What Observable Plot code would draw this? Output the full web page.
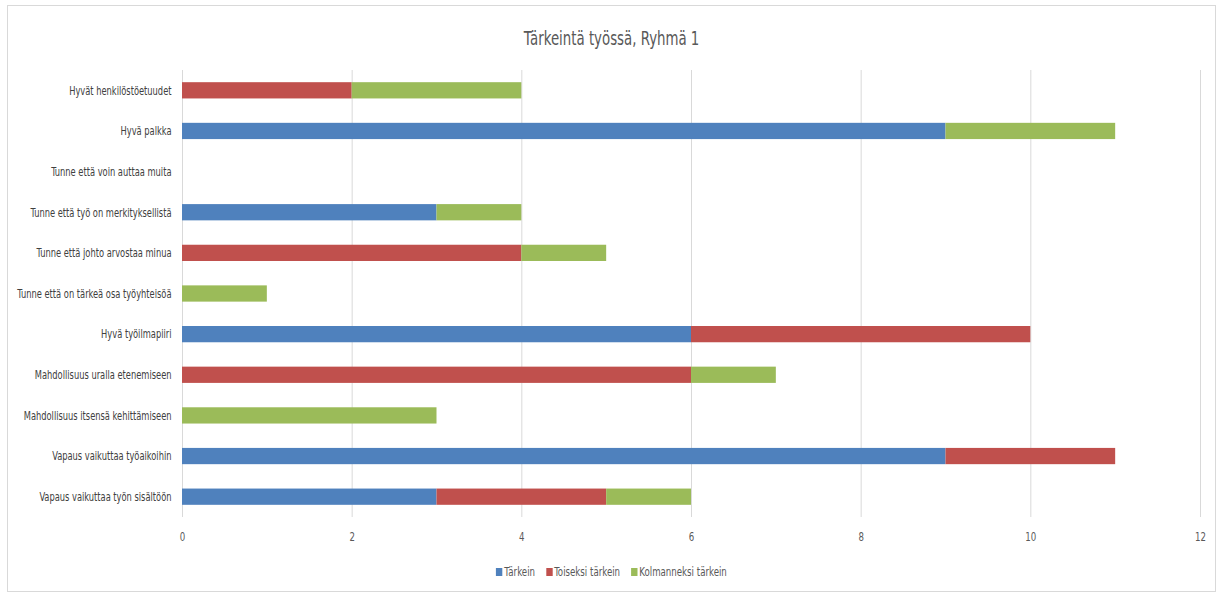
<!DOCTYPE html>
<html>
<head>
<meta charset="utf-8">
<script src="https://cdn.jsdelivr.net/npm/d3@7"></script>
<script src="https://cdn.jsdelivr.net/npm/@observablehq/plot@0.6"></script>
<style>
  body { margin: 0; background: #fff; font-family: "DejaVu Sans Condensed", "DejaVu Sans", sans-serif; }
  #wrap { position: absolute; left: 7px; top: 5px; width: 1207px; height: 585px; border: 1px solid #d9d9d9; }
  #title { position: absolute; left: 0; top: 21px; width: 100%; text-align: center; font-size: 19px; color: #595959; transform: scaleX(0.78); transform-origin: 50% 50%; }
  #chart { position: absolute; left: 0; top: 50px; }
  #legend { position: absolute; left: 0; top: 559px; width: 100%; text-align: center; font-size: 12px; color: #595959; transform: scaleX(0.8); transform-origin: 50% 50%; }
  #legend span.item { margin: 0 7px; }
  #legend span.sw { display: inline-block; width: 8px; height: 8px; margin-right: 2px; vertical-align: 0px; }
</style>
</head>
<body>
<div id="wrap">
  <div id="title">Tärkeintä työssä, Ryhmä 1</div>
  <div id="chart"></div>
  <div id="legend"></div>
</div>
<script>
const categories = [
  "Hyvät henkilöstöetuudet",
  "Hyvä palkka",
  "Tunne että voin auttaa muita",
  "Tunne että työ on merkityksellistä",
  "Tunne että johto arvostaa minua",
  "Tunne että on tärkeä osa työyhteisöä",
  "Hyvä työilmapiiri",
  "Mahdollisuus uralla etenemiseen",
  "Mahdollisuus itsensä kehittämiseen",
  "Vapaus vaikuttaa työaikoihin",
  "Vapaus vaikuttaa työn sisältöön"
];
const seriesNames = ["Tärkein", "Toiseksi tärkein", "Kolmanneksi tärkein"];
const tarkein     = [0, 9, 0, 3, 0, 0, 6, 0, 0, 9, 3];
const toiseksi    = [2, 0, 0, 0, 4, 0, 4, 6, 0, 2, 2];
const kolmanneksi = [2, 2, 0, 1, 1, 1, 0, 1, 3, 0, 1];
const colors = ["#4f81bd", "#c0504d", "#9bbb59"];
const xTicks = [0, 2, 4, 6, 8, 10, 12];

const seriesValues = [tarkein, toiseksi, kolmanneksi];
const data = [];
categories.forEach((c, i) => {
  seriesNames.forEach((s, j) => {
    data.push({category: c, series: s, value: seriesValues[j][i]});
  });
});

const chart = Plot.plot({
  width: 1207,
  height: 500,
  marginLeft: 174,
  marginRight: 15,
  marginTop: 14,
  marginBottom: 39,
  style: { fontFamily: '"DejaVu Sans Condensed", "DejaVu Sans", sans-serif', fontSize: "12px", color: "#595959", background: "#fff" },
  x: { domain: [0, 12], ticks: xTicks, label: null },
  y: { domain: categories, paddingInner: 0.6, paddingOuter: 0.3, round: false, label: null },
  color: { domain: seriesNames, range: colors },
  marks: [
    Plot.ruleX(xTicks, { stroke: "#d9d9d9", strokeWidth: 1 }),
    Plot.barX(data, Plot.stackX({ x: "value", y: "category", fill: "series", order: seriesNames })),
    Plot.axisY({ tickSize: 0, tickPadding: 11, label: null, fill: "#404040" }),
    Plot.axisX({ ticks: xTicks, tickSize: 0, tickPadding: 15, label: null, fill: "#595959" })
  ]
});
document.getElementById("chart").appendChild(chart);

// condense axis label glyphs horizontally (narrow font look), keeping anchors
function condense(sel, s) {
  chart.querySelectorAll(sel).forEach(t => {
    const tr = t.getAttribute("transform");
    if (tr && tr.includes("translate")) {
      t.setAttribute("transform", tr + ` scale(${s},1)`);
    } else {
      const x = +(t.getAttribute("x") || 0), y = +(t.getAttribute("y") || 0);
      t.setAttribute("x", 0); t.setAttribute("y", 0);
      t.setAttribute("transform", (tr ? tr + " " : "") + `translate(${x},${y}) scale(${s},1)`);
    }
  });
}
condense('g[aria-label="y-axis tick label"] text', 0.77);
condense('g[aria-label="x-axis tick label"] text', 0.8);

const legend = document.getElementById("legend");
seriesNames.forEach((s, i) => {
  const item = document.createElement("span");
  item.className = "item";
  const sw = document.createElement("span");
  sw.className = "sw";
  sw.style.background = colors[i];
  item.appendChild(sw);
  item.appendChild(document.createTextNode(s));
  legend.appendChild(item);
});
</script>
</body>
</html>
